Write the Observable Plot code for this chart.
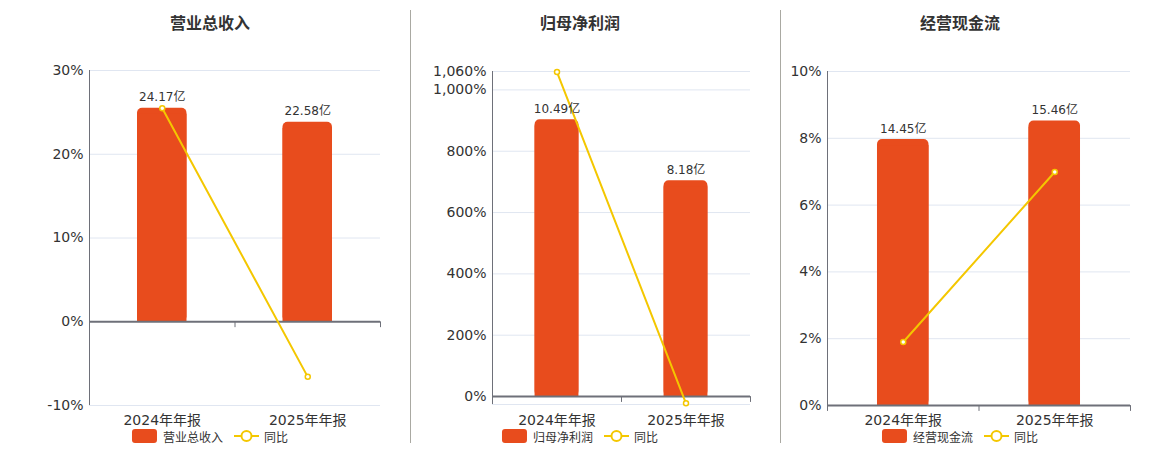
<!DOCTYPE html>
<html><head><meta charset="utf-8">
<script src="https://cdn.jsdelivr.net/npm/d3@7"></script>
<script src="https://cdn.jsdelivr.net/npm/@observablehq/plot@0.6"></script>
<style>
body{margin:0;background:#fff;width:1160px;height:450px;position:relative;overflow:hidden;font-family:"DejaVu Sans","Noto Sans CJK SC",sans-serif;}
.sep{position:absolute;top:10px;height:433px;width:1px;background:#aaa9a2;}
.title{position:absolute;top:14px;line-height:20px;font-size:16px;font-weight:bold;color:#333;transform:translateX(-50%);white-space:nowrap;}
.plot{position:absolute;top:40px;}
.legend{position:absolute;top:429px;height:14px;display:flex;align-items:center;transform:translateX(-50%);font-size:12px;color:#333;white-space:nowrap;z-index:2;}
.legend .sw{width:25px;height:14px;border-radius:3px;margin-right:6px;}
.legend svg{margin-left:11px;margin-right:5px;}
</style></head><body>
<script>
// ---- data ----
const categories = ["2024年年报", "2025年年报"];
const titles = ["营业总收入", "归母净利润", "经营现金流"];
const revenue = [24.17, 22.58];
const revenueYoY = [25.5, -6.58];
const netProfit = [10.49, 8.18];
const netProfitYoY = [1058, -22.0];
const cashFlow = [14.45, 15.46];
const cashFlowYoY = [1.9, 6.99];
// hidden secondary (bar) axis maximum
const barAxisMax = [28.44, 12.32, 18.15];
const yDomains = [[-10, 30], [-26, 1060], [0, 10]];
const yTicks = [[-10, 0, 10, 20, 30], [0, 200, 400, 600, 800, 1000, 1060], [0, 2, 4, 6, 8, 10]];
const legendYoY = "同比";

const barColor = "#e84c1d";
const lineColor = "#f4c700";
const axisColor = "#6e7079";
const gridColor = "#e0e6f1";
const font = '"DejaVu Sans","Noto Sans CJK SC",sans-serif';

const layouts = [
  {left: 40, width: 370, mL: 49, mR: 30, mT: 30, mB: 25, xPad: 10, center: 210, sep: null},
  {left: 410, width: 370, mL: 82, mR: 30, mT: 31, mB: 26, xPad: 11, center: 580, sep: 410},
  {left: 780, width: 370, mL: 47, mR: 20, mT: 31, mB: 25, xPad: 10, center: 960, sep: 780}
];
const seriesValues = [revenue, netProfit, cashFlow];
const seriesYoY = [revenueYoY, netProfitYoY, cashFlowYoY];

const tickShape = {draw(ctx, l) { ctx.moveTo(0, 0); ctx.lineTo(0, -l); }};
const pctFmt = d => d.toLocaleString("en-US") + "%";

layouts.forEach((L, p) => {
  if (L.sep != null) {
    const s = document.createElement("div");
    s.className = "sep"; s.style.left = L.sep + "px";
    document.body.appendChild(s);
  }
  const t = document.createElement("div");
  t.className = "title"; t.style.left = L.center + "px"; t.textContent = titles[p];
  document.body.appendChild(t);

  const data = categories.map((c, i) => ({i, c, v: seriesValues[p][i], yoy: seriesYoY[p][i]}));
  const k = yDomains[p][1] / barAxisMax[p];
  const half = 0.17;
  const grid = [yDomains[p][0], ...yTicks[p].filter(v => v !== 0)];

  const chart = Plot.plot({
    width: L.width, height: 390,
    marginLeft: L.mL, marginRight: L.mR, marginTop: L.mT, marginBottom: L.mB,
    style: {fontFamily: font, fontSize: "14px", color: "#333", background: "transparent", overflow: "visible"},
    x: {domain: [-0.5, 1.5]},
    y: {domain: yDomains[p]},
    marks: [
      Plot.ruleY(grid, {stroke: gridColor, strokeWidth: 1}),
      Plot.rect(data, {x1: d => d.i - half, x2: d => d.i + half, y1: 0, y2: d => d.v * k, fill: barColor, rx: 5}),
      Plot.rect(data, {x1: d => d.i - half, x2: d => d.i + half, y1: 0, y2: d => d.v * k, fill: barColor, insetTop: 6}),
      Plot.ruleX([-0.5], {stroke: axisColor, strokeWidth: 1}),
      Plot.ruleY([0], {stroke: axisColor, strokeWidth: 2}),
      Plot.vector([-0.5, 0.5, 1.5], {x: d => d, y: () => 0, length: 5, rotate: 180, anchor: "start", shape: tickShape, stroke: axisColor, strokeWidth: 1}),
      Plot.line(data, {x: "i", y: "yoy", stroke: lineColor, strokeWidth: 2}),
      Plot.dot(data, {x: "i", y: "yoy", r: 2.5, fill: "#fff", stroke: lineColor, strokeWidth: 1.5}),
      Plot.text(data, {x: "i", y: d => d.v * k, text: d => d.v.toFixed(2) + "亿", dy: -7, lineAnchor: "bottom", fontSize: 12, fill: "#333"}),
      Plot.axisY({ticks: yTicks[p], tickFormat: pctFmt, tickSize: 0, tickPadding: 6, fontSize: 14, fill: "#333", label: null}),
      Plot.axisX({ticks: [0, 1], tickFormat: i => categories[i], tickSize: 0, tickPadding: L.xPad, fontSize: 14, fill: "#333", label: null})
    ]
  });
  const wrap = document.createElement("div");
  wrap.className = "plot"; wrap.style.left = L.left + "px";
  wrap.appendChild(chart);
  document.body.appendChild(wrap);

  const lg = document.createElement("div");
  lg.className = "legend"; lg.style.left = L.center + "px";
  lg.innerHTML = `<div class="sw" style="background:${barColor}"></div><span>${titles[p]}</span>` +
    `<svg width="25" height="14"><line x1="0" y1="7" x2="25" y2="7" stroke="${lineColor}" stroke-width="2"/><circle cx="12.5" cy="7" r="5" fill="#fff" stroke="${lineColor}" stroke-width="2"/></svg><span>${legendYoY}</span>`;
  document.body.appendChild(lg);
});
</script>
</body></html>
